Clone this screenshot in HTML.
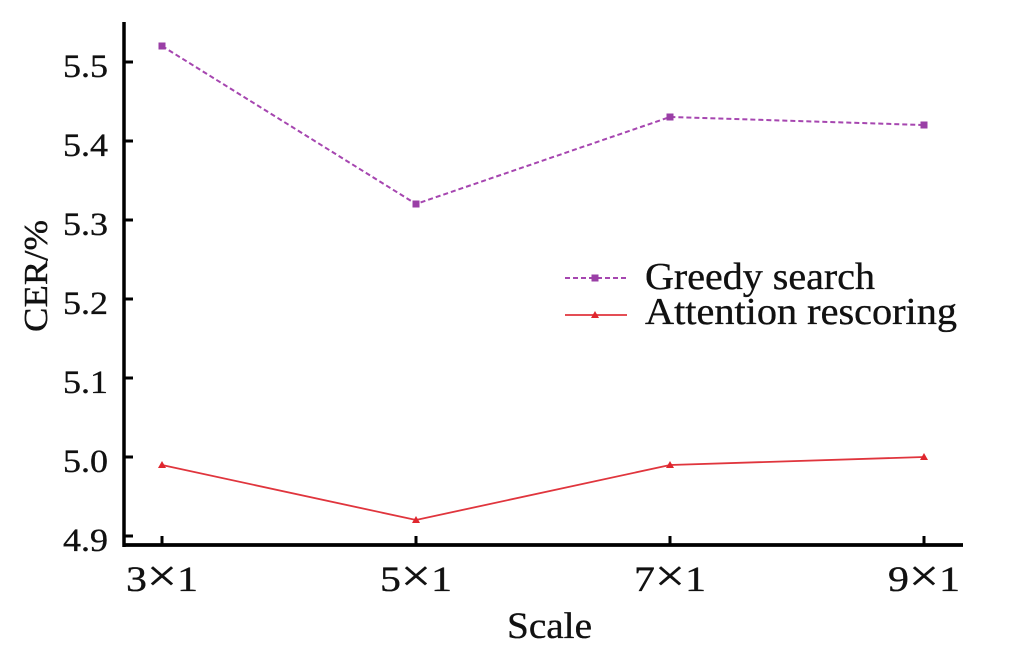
<!DOCTYPE html>
<html>
<head>
<meta charset="utf-8">
<style>
html,body{margin:0;padding:0;background:#fff;}
svg{display:block;}
text{font-family:"Liberation Serif","DejaVu Serif",serif;fill:#111;stroke:#111;stroke-width:0.35;}
</style>
</head>
<body>
<svg width="1025" height="665" viewBox="0 0 1025 665" xmlns="http://www.w3.org/2000/svg">
  <rect width="1025" height="665" fill="#fff"/>
  <!-- axes -->
  <line x1="124" y1="22" x2="124" y2="547" stroke="#000" stroke-width="3.5"/>
  <line x1="122.5" y1="545" x2="963" y2="545" stroke="#000" stroke-width="3.8"/>
  <!-- y ticks -->
  <g stroke="#000" stroke-width="3">
    <line x1="124" y1="62" x2="133" y2="62"/>
    <line x1="124" y1="141" x2="133" y2="141"/>
    <line x1="124" y1="220" x2="133" y2="220"/>
    <line x1="124" y1="299" x2="133" y2="299"/>
    <line x1="124" y1="378" x2="133" y2="378"/>
    <line x1="124" y1="457" x2="133" y2="457"/>
    <line x1="124" y1="536" x2="133" y2="536"/>
  </g>
  <!-- x ticks -->
  <g stroke="#000" stroke-width="3">
    <line x1="162" y1="545" x2="162" y2="536"/>
    <line x1="416" y1="545" x2="416" y2="536"/>
    <line x1="670" y1="545" x2="670" y2="536"/>
    <line x1="924" y1="545" x2="924" y2="536"/>
  </g>
  <!-- y tick labels -->
  <g font-size="33" text-anchor="end">
    <text x="108" y="77" textLength="45" lengthAdjust="spacingAndGlyphs">5.5</text>
    <text x="108" y="156" textLength="45" lengthAdjust="spacingAndGlyphs">5.4</text>
    <text x="108" y="235" textLength="45" lengthAdjust="spacingAndGlyphs">5.3</text>
    <text x="108" y="314" textLength="45" lengthAdjust="spacingAndGlyphs">5.2</text>
    <text x="108" y="393" textLength="45" lengthAdjust="spacingAndGlyphs">5.1</text>
    <text x="108" y="472" textLength="45" lengthAdjust="spacingAndGlyphs">5.0</text>
    <text x="108" y="551" textLength="45" lengthAdjust="spacingAndGlyphs">4.9</text>
  </g>
  <!-- x tick labels -->
  <g font-size="36">
    <text x="126" y="591" textLength="72" lengthAdjust="spacingAndGlyphs">3<tspan font-size="46">×</tspan>1</text>
    <text x="380" y="591" textLength="72" lengthAdjust="spacingAndGlyphs">5<tspan font-size="46">×</tspan>1</text>
    <text x="634" y="591" textLength="72" lengthAdjust="spacingAndGlyphs">7<tspan font-size="46">×</tspan>1</text>
    <text x="888" y="591" textLength="72" lengthAdjust="spacingAndGlyphs">9<tspan font-size="46">×</tspan>1</text>
  </g>
  <!-- axis titles -->
  <text x="507" y="638" font-size="37" textLength="85" lengthAdjust="spacingAndGlyphs">Scale</text>
  <text transform="translate(47,276) rotate(-90)" font-size="34" text-anchor="middle" textLength="112" lengthAdjust="spacingAndGlyphs">CER/%</text>

  <!-- Greedy search series -->
  <polyline points="162,46 416,204 670,117 924,125" fill="none" stroke="#a646b0" stroke-width="2" stroke-dasharray="5,3"/>
  <g fill="#9a3fa6">
    <rect x="158.5" y="42.5" width="7" height="7"/>
    <rect x="412.5" y="200.5" width="7" height="7"/>
    <rect x="666.5" y="113.5" width="7" height="7"/>
    <rect x="920.5" y="121.5" width="7" height="7"/>
  </g>

  <!-- Attention rescoring series -->
  <polyline points="162,465 416,520 670,465 924,457" fill="none" stroke="#e0353d" stroke-width="1.8"/>
  <g fill="#e0262e">
    <polygon points="162,461 166,468 158,468"/>
    <polygon points="416,516 420,523 412,523"/>
    <polygon points="670,461 674,468 666,468"/>
    <polygon points="924,453 928,460 920,460"/>
  </g>

  <!-- legend -->
  <line x1="565" y1="278" x2="627" y2="278" stroke="#a646b0" stroke-width="2" stroke-dasharray="5,3"/>
  <rect x="591.5" y="274.5" width="7" height="7" fill="#9a3fa6"/>
  <line x1="565" y1="315" x2="627" y2="315" stroke="#e0353d" stroke-width="1.8"/>
  <polygon points="595,311 599,318 591,318" fill="#e0262e"/>
  <text x="645" y="289" font-size="38" textLength="230" lengthAdjust="spacingAndGlyphs">Greedy search</text>
  <text x="645" y="324" font-size="38" textLength="312" lengthAdjust="spacingAndGlyphs">Attention rescoring</text>
</svg>
</body>
</html>
